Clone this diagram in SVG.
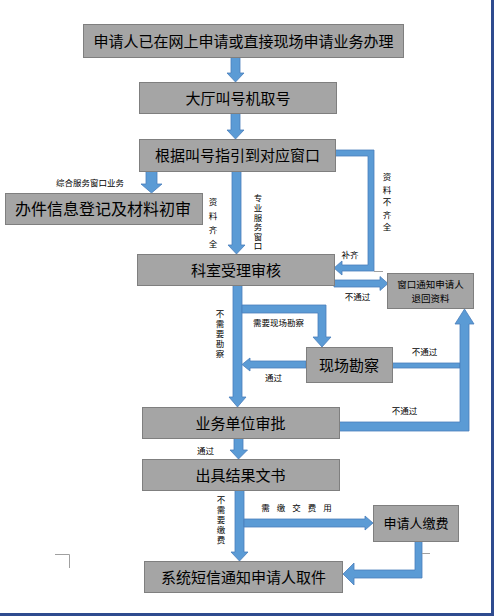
<svg xmlns="http://www.w3.org/2000/svg" width="494" height="616" viewBox="0 0 494 616">
<style>
.box{fill:#A5A5A5;stroke:#7F7F7F;stroke-width:1}
.t{font-family:"Noto Sans CJK SC","Noto Sans",sans-serif;font-size:15px;fill:#000;text-anchor:middle}
.s{font-family:"Noto Sans CJK SC","Noto Sans",sans-serif;font-size:8.5px;fill:#000;text-anchor:middle}
.v{font-family:"Noto Sans CJK SC","Noto Sans",sans-serif;font-size:8.5px;fill:#000;writing-mode:vertical-rl;text-anchor:start}
.arr{fill:#5B9BD5;stroke:#4A7EBB;stroke-width:0.8;stroke-linejoin:miter}
.thin{fill:none;stroke:#A0A0A0;stroke-width:1}
</style>
<rect x="0" y="0" width="494" height="616" fill="#FFFFFF"/>
<g id="connectors">
<path class="arr" d="M231,57 H240 V73 H244 L235.5,82 L227,73 H231 Z"/>
<path class="arr" d="M231,113 H240 V130 H244 L235.5,139 L227,130 H231 Z"/>
<path class="arr" d="M146,171 H157 V184 H162 L151.5,193 L141,184 H146 Z"/>
<path class="arr" d="M232,171 H241 V245 H245 L236.5,254 L228,245 H232 Z"/>
<path class="arr" d="M335,150 H374 V271 H342 V275 L334,268 L342,261 V265 H368 V156 H335 Z"/>
<path class="arr" d="M334,280 H380 V276.5 L388,283.5 L380,290.5 V287 H334 Z"/>
<path class="arr" d="M233,285 H242 V397 H246 L237.5,407 L229,397 H233 Z"/>
<path class="arr" d="M242,305 H326 V337 H331 L322,347 L313,337 H318 V313 H242 Z"/>
<path class="arr" d="M306,361 H250 V358 L242,364.5 L250,371 V368 H306 Z"/>
<path class="arr" d="M392,363 H460 V368 H392 Z"/>
<path class="arr" d="M339,422 H460 V324 H455 L464.5,309 L474,324 H469 V431 H339 Z"/>
<path class="arr" d="M234,438 H243 V450 H247.5 L238.5,459 L230,450 H234 Z"/>
<path class="arr" d="M235,490 H244 V552 H248 L239.5,561 L231,552 H235 Z"/>
<path class="arr" d="M244,519 H365 V516 L373,523 L365,530 V527 H244 Z"/>
<path class="arr" d="M415,541 H422 V578 H354 V585 L343,574 L354,563 V570 H415 Z"/>
<line class="thin" x1="374" y1="271.5" x2="383" y2="271.5"/>
<line class="thin" x1="422" y1="553.5" x2="430" y2="553.5"/>
</g>
<g id="labels">
<text class="s" x="90" y="186">综合服务窗口业务</text>
<text class="v" x="213" y="198" style="letter-spacing:5.5px">资料齐全</text>
<text class="v" x="258" y="194" style="letter-spacing:1.1px">专业服务窗口</text>
<text class="v" x="387" y="173" style="letter-spacing:4px">资料不齐全</text>
<text class="s" x="350" y="258">补齐</text>
<text class="s" x="357.5" y="300">不通过</text>
<text class="s" x="278.5" y="326">需要现场勘察</text>
<text class="v" x="220" y="310" style="letter-spacing:1.5px">不需要勘察</text>
<text class="s" x="273.5" y="381">通过</text>
<text class="s" x="424.5" y="355">不通过</text>
<text class="s" x="404.5" y="414">不通过</text>
<text class="s" x="205.5" y="454">通过</text>
<text class="v" x="221" y="496" style="letter-spacing:1.5px">不需要缴费</text>
<text class="s" x="300" y="511" style="letter-spacing:7px">需缴交费用</text>
</g>
<g id="n1"><rect class="box" x="83.5" y="24.5" width="320" height="33"/><text class="t" x="243.5" y="46.5">申请人已在网上申请或直接现场申请业务办理</text></g>
<g id="n2"><rect class="box" x="139.5" y="82.5" width="197" height="31"/><text class="t" x="238" y="103.5">大厅叫号机取号</text></g>
<g id="n3"><rect class="box" x="139.5" y="139.5" width="196" height="32"/><text class="t" x="237.5" y="161">根据叫号指引到对应窗口</text></g>
<g id="n4"><rect class="box" x="5.5" y="193.5" width="197" height="31"/><text class="t" style="font-size:16px" x="103" y="215">办件信息登记及材料初审</text></g>
<g id="n5"><rect class="box" x="137.5" y="254.5" width="197" height="31"/><text class="t" x="236" y="275.5">科室受理审核</text></g>
<g id="n6"><rect class="box" x="387.5" y="273.5" width="86" height="35"/><text class="t" style="font-size:9.5px"><tspan x="430.5" y="288">窗口通知申请人</tspan><tspan x="430.5" y="301.5">退回资料</tspan></text></g>
<g id="n7"><rect class="box" x="306.5" y="347.5" width="86" height="35"/><text class="t" x="349" y="370.5">现场勘察</text></g>
<g id="n8"><rect class="box" x="142.5" y="407.5" width="197" height="31"/><text class="t" x="240.5" y="428.5">业务单位审批</text></g>
<g id="n9"><rect class="box" x="142.5" y="459.5" width="197" height="31"/><text class="t" x="240.5" y="480.5">出具结果文书</text></g>
<g id="n10"><rect class="box" x="373.5" y="505.5" width="85" height="36"/><text class="t" style="font-size:13px" x="416" y="528">申请人缴费</text></g>
<g id="n11"><rect class="box" x="144.5" y="561.5" width="198" height="31"/><text class="t" x="243.5" y="582.5">系统短信通知申请人取件</text></g>
<g id="page">
<polyline class="thin" points="55,554.5 69.5,554.5 69.5,568"/>
<rect x="491" y="0" width="3" height="616" fill="#2F4B8F"/>
<rect x="0" y="613" width="494" height="3" fill="#2F4B8F"/>
</g>
</svg>
